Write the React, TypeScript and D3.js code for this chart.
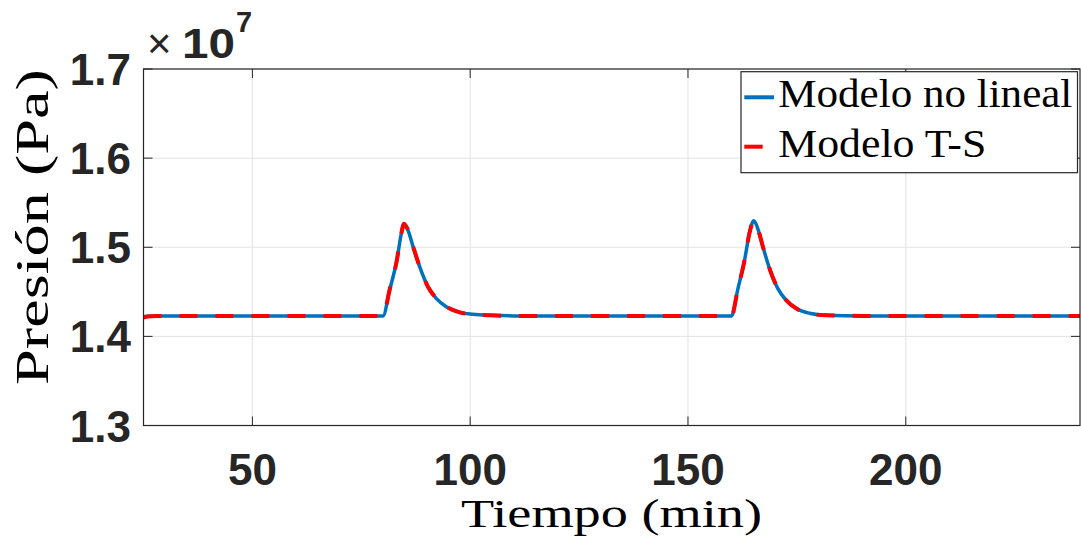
import React from "react";
import * as d3 from "d3";

const timeMin = [25, 26, 28, 30, 40, 60, 80, 81.5, 83.1, 84.2, 84.8, 85.7, 86.9, 88.4, 90.3, 92.2, 94.5, 97.6, 100.6, 104.5, 110, 130, 150, 160, 161.4, 163, 164.1, 165.1, 166, 167.2, 168.7, 170.6, 172.5, 174.8, 177.9, 181.7, 190, 210, 240];
const nonlinearVals = [1.4222, 1.4227, 1.423, 1.423, 1.423, 1.423, 1.423, 1.452, 1.4838, 1.5156, 1.5265, 1.5194, 1.5006, 1.4782, 1.4557, 1.4427, 1.4333, 1.427, 1.4248, 1.4236, 1.423, 1.423, 1.423, 1.423, 1.452, 1.4857, 1.5156, 1.5298, 1.5213, 1.5006, 1.4764, 1.4539, 1.4408, 1.4315, 1.4259, 1.4236, 1.423, 1.423, 1.423];
const tsVals = [1.4212, 1.4222, 1.4229, 1.423, 1.423, 1.423, 1.423, 1.452, 1.4838, 1.5156, 1.5265, 1.5194, 1.5006, 1.4782, 1.4557, 1.4427, 1.4333, 1.427, 1.4248, 1.4236, 1.423, 1.423, 1.423, 1.423, 1.452, 1.4857, 1.5156, 1.5298, 1.5213, 1.5006, 1.4764, 1.4539, 1.4408, 1.4315, 1.4259, 1.4236, 1.423, 1.423, 1.423];
const xTicks = [50, 100, 150, 200];
const yTicks = [1.3, 1.4, 1.5, 1.6, 1.7];
const seriesNames = ["Modelo no lineal", "Modelo T-S"];

const L = 143.5, R = 1080, T = 69, B = 425.5;
const axisColor = "#262626";
const gridColor = "#e3e3e3";
const serif = "'Liberation Serif', 'Times New Roman', serif";
const sans = "'Liberation Sans', Arial, Helvetica, sans-serif";

export default function App() {
  const x = d3.scaleLinear().domain([25, 240]).range([L, R]);
  const y = d3.scaleLinear().domain([1.3, 1.7]).range([B, T]);
  const line = (vals: number[]) =>
    d3
      .line<number>()
      .x((_, i) => x(timeMin[i]))
      .y((d) => y(d))
      .curve(d3.curveMonotoneX)(vals) || "";

  return (
    <div style={{ position: "absolute", left: 0, top: 0 }}>
      <svg width={1081} height={552} style={{ display: "block", background: "#fff" }}>
        <defs>
          <clipPath id="plotclip">
            <rect x={L} y={T} width={R - L} height={B - T} />
          </clipPath>
        </defs>
        {xTicks.map((t) => (
          <line key={"gx" + t} x1={x(t)} x2={x(t)} y1={T} y2={B} stroke={gridColor} strokeWidth={1} />
        ))}
        {yTicks.map((t) => (
          <line key={"gy" + t} x1={L} x2={R} y1={y(t)} y2={y(t)} stroke={gridColor} strokeWidth={1} />
        ))}
        {xTicks.map((t) => (
          <g key={"tx" + t}>
            <line x1={x(t)} x2={x(t)} y1={B} y2={B - 9} stroke={axisColor} strokeWidth={1} />
            <line x1={x(t)} x2={x(t)} y1={T} y2={T + 9} stroke={axisColor} strokeWidth={1} />
          </g>
        ))}
        {yTicks.map((t) => (
          <g key={"ty" + t}>
            <line x1={L} x2={L + 9} y1={y(t)} y2={y(t)} stroke={axisColor} strokeWidth={1} />
            <line x1={R} x2={R - 9} y1={y(t)} y2={y(t)} stroke={axisColor} strokeWidth={1} />
          </g>
        ))}
        <g clipPath="url(#plotclip)">
          <path d={line(nonlinearVals)} fill="none" stroke="#0072BD" strokeWidth={3.5} strokeLinejoin="round" />
          <path d={line(tsVals)} fill="none" stroke="#FF0000" strokeWidth={4} strokeDasharray="18 18" />
        </g>
        <rect x={L} y={T} width={R - L} height={B - T} fill="none" stroke={axisColor} strokeWidth={1.2} />
        {xTicks.map((t) => (
          <text key={"lx" + t} x={x(t)} y={485} textAnchor="middle" fontFamily={sans} fontWeight="bold" fontSize={44} fill={axisColor}>
            {t}
          </text>
        ))}
        {yTicks.map((t) => (
          <text key={"ly" + t} x={131} y={y(t) + 16} textAnchor="end" fontFamily={sans} fontWeight="bold" fontSize={44} fill={axisColor}>
            {t.toFixed(1)}
          </text>
        ))}
        <text x={147} y={58} fontFamily={sans} fontSize={42} fill={axisColor}>×</text>
        <text x={182} y={58} fontFamily={sans} fontWeight="bold" fontSize={42} fill={axisColor} textLength={53} lengthAdjust="spacingAndGlyphs">10</text>
        <text x={236} y={32} fontFamily={sans} fontWeight="bold" fontSize={29} fill={axisColor}>7</text>
        <text x={461} y={527} fontFamily={serif} fontSize={39} fill="#000" textLength={301} lengthAdjust="spacingAndGlyphs">
          Tiempo (min)
        </text>
        <text transform="translate(48,385) rotate(-90)" fontFamily={serif} fontSize={47} fill="#000" textLength={316} lengthAdjust="spacingAndGlyphs">
          Presión (Pa)
        </text>
        <rect x={741} y={71.7} width={336.5} height={101} fill="#fff" stroke={axisColor} strokeWidth={1.2} />
        <line x1={744.3} x2={774} y1={97.3} y2={97.3} stroke="#0072BD" strokeWidth={4} />
        <line x1={744.3} x2={762.7} y1={146.7} y2={146.7} stroke="#FF0000" strokeWidth={4} />
        <text x={778.3} y={106.7} fontFamily={serif} fontSize={40} fill="#000" textLength={294} lengthAdjust="spacingAndGlyphs">
          {seriesNames[0]}
        </text>
        <text x={778.3} y={157.3} fontFamily={serif} fontSize={40} fill="#000" textLength={208} lengthAdjust="spacingAndGlyphs">
          {seriesNames[1]}
        </text>
      </svg>
    </div>
  );
}
